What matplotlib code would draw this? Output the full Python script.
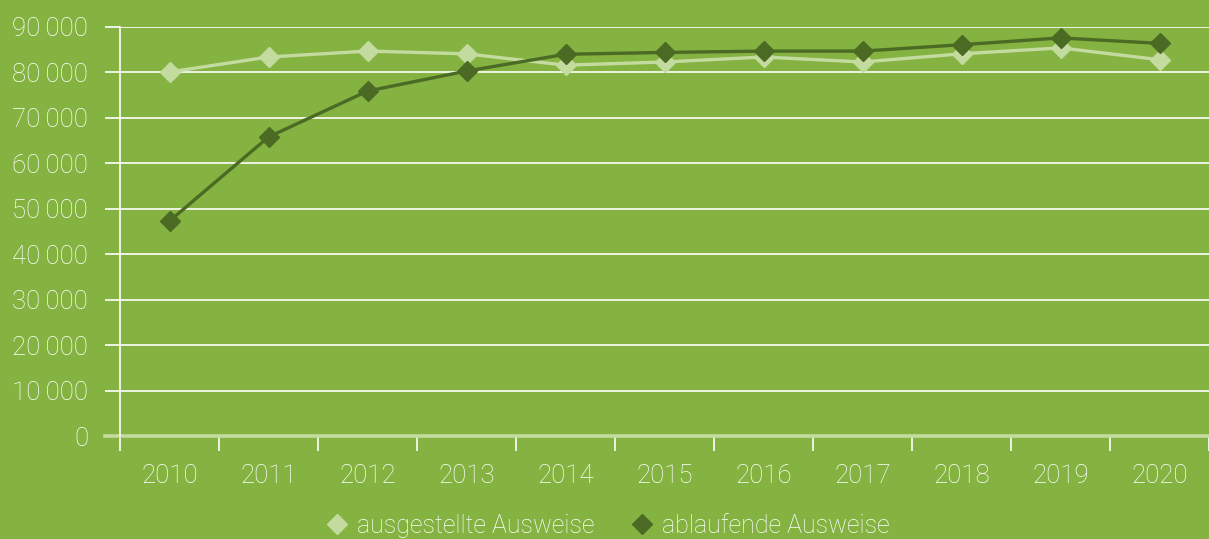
import matplotlib
matplotlib.use("Agg")
import matplotlib.pyplot as plt
from matplotlib.ticker import FixedLocator, FuncFormatter

years = ["2010", "2011", "2012", "2013", "2014", "2015", "2016", "2017", "2018", "2019", "2020"]
ausgestellt = [80100, 83400, 84700, 84100, 81600, 82300, 83400, 82300, 84100, 85400, 82800]
ablaufend = [47300, 65800, 75900, 80300, 84000, 84400, 84700, 84700, 86100, 87600, 86400]
series_names = ["ausgestellte Ausweise", "ablaufende Ausweise"]

BG = "#84b341"
LIGHT = "#c4dba0"
DARK = "#4b6a23"
FS = 18.5

plt.rcParams["font.family"] = ["Roboto", "DejaVu Sans"]
plt.rcParams["font.weight"] = "light"

fig = plt.figure(figsize=(12.09, 5.39), dpi=100, facecolor=BG)
ax = fig.add_axes([120 / 1209, 103 / 539, 1 - 120 / 1209, (436 - 27) / 539])
ax.set_facecolor(BG)

x = list(range(len(years)))
ax.plot(x, ausgestellt, color=LIGHT, lw=2.4, marker="D", ms=10.5, label=series_names[0],
        clip_on=False, zorder=3)
ax.plot(x, ablaufend, color=DARK, lw=2.4, marker="D", ms=10.5, label=series_names[1],
        clip_on=False, zorder=4)

ax.set_xlim(-0.5, len(years) - 0.5)
ax.set_ylim(0, 90000)

for s in ["top", "right", "bottom"]:
    ax.spines[s].set_visible(False)
ax.spines["left"].set_color("white")
ax.spines["left"].set_linewidth(1.2)

# y axis
ax.yaxis.set_major_locator(FixedLocator(range(0, 90001, 10000)))
ax.yaxis.set_major_formatter(FuncFormatter(
    lambda v, p: "0" if v == 0 else f"{int(v) // 1000}\u2009000"))
ax.tick_params(axis="y", length=11, width=1.2, color="white", labelcolor="white",
               labelsize=FS, pad=12)
ax.grid(axis="y", color="white", lw=1.2, zorder=1)
ax.axhline(0, xmin=-15 / 1089, xmax=1, color=LIGHT, lw=2.6, clip_on=False, zorder=2)

# x axis
ax.set_xticks(x)
ax.set_xticklabels(years)
ax.set_xticks([i - 0.5 for i in range(len(years) + 1)], minor=True)
ax.tick_params(axis="x", which="major", length=0, labelcolor="white", labelsize=FS, pad=20)
ax.tick_params(axis="x", which="minor", length=10.5, width=1.2, color="white")

for lbl in ax.get_xticklabels() + ax.get_yticklabels():
    lbl.set_fontweight("light")

leg = fig.legend(handles=ax.get_lines()[:2], loc="center", ncol=2,
                 bbox_to_anchor=(0.503, 13 / 539), frameon=False,
                 handlelength=0.8, handletextpad=0.4, columnspacing=1.5,
                 prop={"weight": "light", "size": 18})
for h in leg.legend_handles:
    h.set_linestyle("none")
for t in leg.get_texts():
    t.set_color("white")

fig.savefig("out.png", dpi=100, facecolor=BG)
